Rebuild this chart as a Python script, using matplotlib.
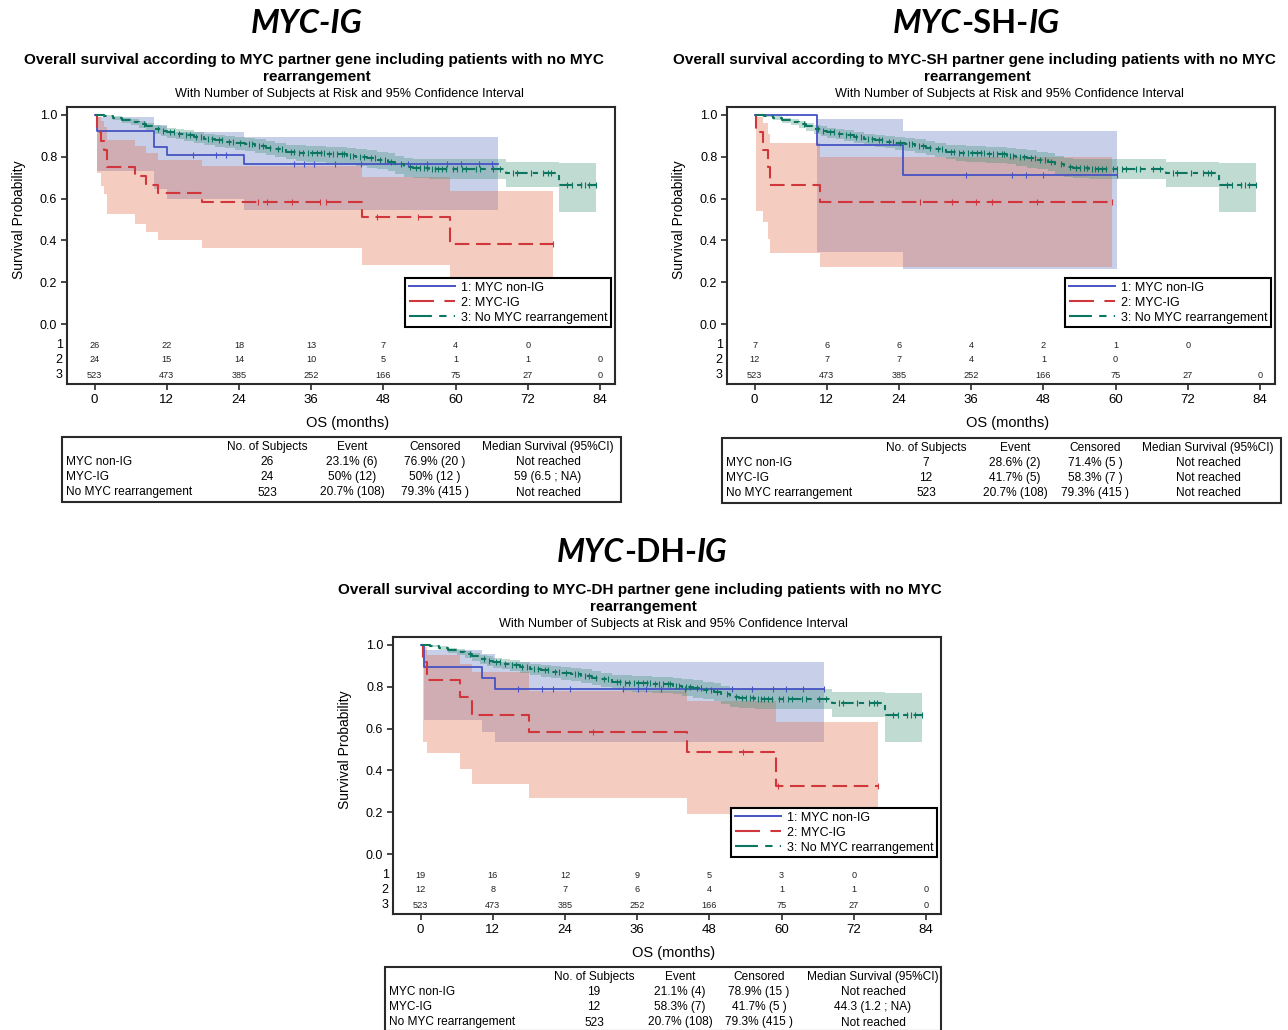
import numpy as np
import matplotlib
matplotlib.use("Agg")
import matplotlib.pyplot as plt
from matplotlib.lines import Line2D
from matplotlib.patches import Rectangle
from matplotlib.transforms import blended_transform_factory

plt.rcParams['font.family'] = ['Liberation Sans', 'DejaVu Sans']

# ---------------- data ----------------
month_ticks = [0, 12, 24, 36, 48, 60, 72, 84]
prob_ticks = [0.0, 0.2, 0.4, 0.6, 0.8, 1.0]
legend_labels = ["1: MYC non-IG", "2: MYC-IG", "3: No MYC rearrangement"]
table_header = ["No. of Subjects", "Event", "Censored", "Median Survival (95%CI)"]
group_names = ["MYC non-IG", "MYC-IG", "No MYC rearrangement"]

# group 3 (no MYC rearrangement) is the same in all panels
green_t = [1.5, 3, 4.6, 6, 7.3, 8.5, 9.9, 11, 12.1, 13.5, 14.8, 16.5, 18.2, 20, 21.6,
           23.3, 25, 26.7, 28.4, 30, 31.8, 33.5, 35.1, 38.5, 41.9, 43.5, 45.3, 47, 48.7,
           50, 51.4, 53, 55.5, 68.4, 77.2]
green_s = [.995, .986, .976, .967, .957, .945, .931, .924, .917, .910, .903, .894, .884,
           .878, .872, .867, .861, .853, .844, .835, .825, .820, .816, .812, .805, .800,
           .792, .785, .777, .765, .753, .746, .742, .720, .665]
green_lo = [.988, .975, .961, .950, .938, .924, .908, .900, .892, .884, .876, .866, .854,
            .847, .840, .834, .827, .818, .808, .798, .787, .781, .776, .771, .763, .757,
            .748, .740, .731, .717, .704, .698, .695, .655, .535]
green_hi = [1.0, .994, .987, .981, .973, .963, .951, .945, .939, .933, .927, .919, .911,
            .905, .900, .895, .890, .883, .875, .867, .858, .854, .850, .847, .841, .837,
            .830, .824, .817, .806, .796, .790, .787, .777, .770]
green_end = 83.3
green_cens = [8.2, 10.5, 11.3, 12.6, 13.2, 14.0, 15.1, 15.8, 16.9, 17.6, 18.8, 19.5, 20.6,
              21.2, 22.4, 23.0, 24.1, 25.6, 26.2, 27.3, 28.0, 29.1, 30.4, 31.2, 32.6, 33.1,
              34.0, 34.6, 35.5, 36.2, 36.9, 37.6, 38.2, 39.0, 39.6, 40.3, 41.1, 41.5, 42.4,
              43.0, 44.1, 44.8, 46.0, 46.6, 47.5, 48.2, 49.3, 51.0, 52.4, 53.5, 54.1, 54.8,
              55.2, 56.0, 56.6, 57.1, 57.8, 58.4, 59.5, 60.3, 61.0, 61.8, 63.4, 64.0, 66.2,
              67.3, 69.5, 70.2, 72.6, 74.6, 75.3, 75.9, 78.5, 79.3, 80.8, 81.5, 82.2, 83.3]
risk_green = [523, 473, 385, 252, 166, 75, 27, 0]

# Panel 1: MYC-IG
p1_blue_t = [0.4, 9.9, 12.1, 24.8]
p1_blue_s = [0.923, 0.846, 0.808, 0.767]
p1_blue_lo = [0.733, 0.645, 0.600, 0.545]
p1_blue_hi = [0.989, 0.950, 0.917, 0.893]
p1_blue_end = 67.0
p1_blue_cens = [16.4, 20.1, 21.9, 33.1, 34.8, 36.5, 39.9, 44.3, 52.1, 55.2, 58.5, 60.9, 63.9, 66.0]
p1_red_t = [0.4, 1.0, 1.5, 2.1, 6.65, 8.6, 10.6, 17.9, 44.4, 59.0]
p1_red_s = [0.917, 0.875, 0.833, 0.750, 0.708, 0.667, 0.625, 0.583, 0.510, 0.383]
p1_red_lo = [0.72, 0.66, 0.62, 0.526, 0.48, 0.44, 0.40, 0.362, 0.282, 0.134]
p1_red_hi = [0.99, 0.97, 0.94, 0.88, 0.85, 0.82, 0.785, 0.757, 0.705, 0.638]
p1_red_end = 76.2
p1_red_cens = [27.2, 28.6, 32.8, 37.5, 38.5, 47.0, 53.8, 76.2]
p1_risk1 = [26, 22, 18, 13, 7, 4, 0]
p1_risk2 = [24, 15, 14, 10, 5, 1, 1, 0]
p1_rows = [["26", "23.1% (6)", "76.9% (20 )", "Not reached"],
           ["24", "50% (12)", "50% (12 )", "59 (6.5 ; NA)"],
           ["523", "20.7% (108)", "79.3% (415 )", "Not reached"]]

# Panel 2: MYC-SH-IG
p2_blue_t = [10.3, 24.7]
p2_blue_s = [0.857, 0.714]
p2_blue_lo = [0.344, 0.263]
p2_blue_hi = [0.980, 0.922]
p2_blue_end = 60.3
p2_blue_cens = [35.1, 42.7, 45.1, 48.0, 60.3]
p2_red_t = [0.3, 1.4, 2.2, 2.5, 10.8]
p2_red_s = [0.917, 0.833, 0.750, 0.667, 0.583]
p2_red_lo = [0.542, 0.487, 0.407, 0.338, 0.273]
p2_red_hi = [0.99, 0.96, 0.91, 0.865, 0.80]
p2_red_end = 59.4
p2_red_cens = [27.5, 32.8, 36.8, 39.5, 47.0, 59.4]
p2_risk1 = [7, 6, 6, 4, 2, 1, 0]
p2_risk2 = [12, 7, 7, 4, 1, 0]
p2_rows = [["7", "28.6% (2)", "71.4% (5 )", "Not reached"],
           ["12", "41.7% (5)", "58.3% (7 )", "Not reached"],
           ["523", "20.7% (108)", "79.3% (415 )", "Not reached"]]

# Panel 3: MYC-DH-IG
p3_blue_t = [0.5, 10.2, 12.4]
p3_blue_s = [0.895, 0.842, 0.789]
p3_blue_lo = [0.641, 0.585, 0.534]
p3_blue_hi = [0.975, 0.955, 0.917]
p3_blue_end = 67.0
p3_blue_cens = [16.2, 20.1, 22.0, 24.9, 33.6, 36.2, 37.5, 40.0, 44.0, 51.7, 55.0, 58.6, 60.8, 63.6, 67.0]
p3_red_t = [0.4, 1.1, 6.5, 8.6, 18.0, 44.2, 59.0]
p3_red_s = [0.917, 0.833, 0.750, 0.667, 0.583, 0.486, 0.324]
p3_red_lo = [0.537, 0.482, 0.407, 0.335, 0.266, 0.19, 0.064]
p3_red_hi = [0.99, 0.95, 0.91, 0.87, 0.78, 0.73, 0.63]
p3_red_end = 76.1
p3_red_cens = [28.7, 53.6, 59.4, 76.1]
p3_risk1 = [19, 16, 12, 9, 5, 3, 0]
p3_risk2 = [12, 8, 7, 6, 4, 1, 1, 0]
p3_rows = [["19", "21.1% (4)", "78.9% (15 )", "Not reached"],
           ["12", "58.3% (7)", "41.7% (5 )", "44.3 (1.2 ; NA)"],
           ["523", "20.7% (108)", "79.3% (415 )", "Not reached"]]

# ---------------- style ----------------
W, H = 1288, 1030
BLUE, RED, GREEN = '#4653c4', '#d0363b', '#0d7660'
BLUE_F, RED_F, GREEN_F = '#5970bd', '#e26a42', '#3a8f74'
FRAME = '#2a2a2a'
RED_DASH = (7, 3.2)
GREEN_DASH = (6, 2.5, 2.5, 2.5)

fig = plt.figure(figsize=(W / 100, H / 100), dpi=100)
renderer = fig.canvas.get_renderer()


def fx(x):
    return x / W


def fy(y):
    return 1 - y / H


def km_band(ax, t, lo, hi, end, fcolor, alpha):
    xb = np.r_[t, end]
    ax.fill_between(xb, np.r_[lo, lo[-1]], np.r_[hi, hi[-1]], step='post',
                    color=fcolor, alpha=alpha, lw=0, zorder=1)


def km_line(ax, t, s, end, cens, color, dashes, lw=1.3):
    x = np.r_[0.0, t, end]
    y = np.r_[1.0, s, s[-1]]
    kw = dict(color=color, lw=lw, drawstyle='steps-post', zorder=3)
    if dashes is None:
        ax.plot(x, y, ls='-', **kw)
    else:
        ax.plot(x, y, dashes=dashes, **kw)
    t = np.asarray(t)
    s = np.asarray(s)
    idx = np.searchsorted(t, cens, side='right') - 1
    cy = np.where(idx < 0, 1.0, s[np.clip(idx, 0, None)])
    ax.plot(cens, cy, ls='none', marker='|', ms=5, mew=0.8, color=color, zorder=4)


def fit_text(s, cx, cy, target_w, size=10, **kw):
    t = fig.text(fx(cx), fy(cy), s, fontsize=size, ha='center', va='center', **kw)
    w = t.get_window_extent(renderer).width
    t.set_fontsize(size * target_w / w)
    return t


def rich_title(pieces, cx, base_y, target_w, size=26):
    arts = [fig.text(0, 0, s, fontsize=size, fontweight='bold', fontstyle=st,
                     family=['Lato', 'DejaVu Sans'], ha='left', va='baseline')
            for s, st in pieces]
    tot = sum(a.get_window_extent(renderer).width for a in arts)
    for a in arts:
        a.set_fontsize(size * target_w / tot)
    ws = [a.get_window_extent(renderer).width for a in arts]
    x = cx - sum(ws) / 2
    for a, w in zip(arts, ws):
        a.set_position((fx(x), fy(base_y)))
        x += w


def panel(box, blue, red, risk1, risk2):
    l, t, r, b = box
    ax = fig.add_axes([fx(l), fy(b), (r - l) / W, (b - t) / H])
    ax.set_xlim(-4.6, 86.5)
    ax.set_ylim(-0.287, 1.038)
    (bt, bs, blo, bhi, bend, bc) = blue
    (rt, rs, rlo, rhi, rend, rc) = red
    km_band(ax, bt, blo, bhi, bend, BLUE_F, 0.33)
    km_band(ax, rt, rlo, rhi, rend, RED_F, 0.33)
    km_band(ax, green_t, green_lo, green_hi, green_end, GREEN_F, 0.32)
    km_line(ax, bt, bs, bend, bc, BLUE, None)
    km_line(ax, rt, rs, rend, rc, RED, RED_DASH, lw=1.5)
    km_line(ax, green_t, green_s, green_end, green_cens, GREEN, GREEN_DASH, lw=1.5)

    ax.set_xticks(month_ticks)
    ax.set_xticklabels([str(m) for m in month_ticks], fontsize=9.5)
    ax.set_yticks(prob_ticks)
    ax.set_yticklabels(['%.1f' % p for p in prob_ticks], fontsize=9)
    ax.tick_params(direction='out', length=4.5, width=1.2, color=FRAME, pad=2.5)
    for sp in ax.spines.values():
        sp.set_linewidth(1.5)
        sp.set_color(FRAME)

    trb = blended_transform_factory(ax.transAxes, ax.transData)
    rows_y = [-0.1005, -0.172, -0.244]
    for lab, yy in zip(['1', '2', '3'], rows_y):
        ax.text(-0.008, yy, lab, transform=trb, ha='right', va='center', fontsize=9)
    for row, yy in zip([risk1, risk2, risk_green], rows_y):
        for m, n in zip(month_ticks, row):
            ax.text(m, yy, str(n), ha='center', va='center', fontsize=6.6, color='#222')

    tra = blended_transform_factory(ax.transData, ax.transAxes)
    ax.text(42, -0.141, 'OS (months)', transform=tra, ha='center', va='center', fontsize=10.5)
    ax.text(-0.088, 0.5, 'Survival Probability', transform=trb, rotation=90,
            ha='center', va='center', fontsize=10)

    handles = [Line2D([], [], color=BLUE, lw=1.4),
               Line2D([], [], color=RED, lw=1.5, dashes=(12, 5)),
               Line2D([], [], color=GREEN, lw=1.5, dashes=(11, 3.5, 3.5, 3.5, 3.5, 3.5))]
    leg = ax.legend(handles, legend_labels, loc='lower right', bbox_to_anchor=(85.8, -0.014),
                    bbox_transform=ax.transData, fontsize=9, frameon=True, fancybox=False,
                    edgecolor='black', framealpha=1, borderpad=0.25, labelspacing=0.25,
                    handlelength=3.7, handletextpad=0.5, borderaxespad=0)
    leg.get_frame().set_linewidth(1.5)
    leg.set_zorder(6)
    return ax


def table(box, label_x, cols, head_y, row_ys, rows):
    l, t, r, b = box
    fig.add_artist(Rectangle((fx(l), fy(b)), (r - l) / W, (b - t) / H, transform=fig.transFigure,
                             fill=False, lw=1.5, edgecolor=FRAME))
    for cx, h in zip(cols, table_header):
        fig.text(fx(cx), fy(head_y), h, ha='center', va='center', fontsize=8.6)
    for yy, name, vals in zip(row_ys, group_names, rows):
        fig.text(fx(label_x), fy(yy), name, ha='left', va='center', fontsize=8.6)
        for cx, v in zip(cols, vals):
            fig.text(fx(cx), fy(yy), v, ha='center', va='center', fontsize=8.6)


# ---------------- panels ----------------
panel((67, 107, 615, 384),
      (p1_blue_t, p1_blue_s, p1_blue_lo, p1_blue_hi, p1_blue_end, p1_blue_cens),
      (p1_red_t, p1_red_s, p1_red_lo, p1_red_hi, p1_red_end, p1_red_cens),
      p1_risk1, p1_risk2)
panel((727, 107, 1275, 384),
      (p2_blue_t, p2_blue_s, p2_blue_lo, p2_blue_hi, p2_blue_end, p2_blue_cens),
      (p2_red_t, p2_red_s, p2_red_lo, p2_red_hi, p2_red_end, p2_red_cens),
      p2_risk1, p2_risk2)
panel((393, 637, 941, 914),
      (p3_blue_t, p3_blue_s, p3_blue_lo, p3_blue_hi, p3_blue_end, p3_blue_cens),
      (p3_red_t, p3_red_s, p3_red_lo, p3_red_hi, p3_red_end, p3_red_cens),
      p3_risk1, p3_risk2)

# ---------------- titles ----------------
rich_title([("MYC-IG", 'italic')], 307, 33, 112)
rich_title([("MYC", 'italic'), ("-SH-", 'normal'), ("IG", 'italic')], 976, 33, 167)
rich_title([("MYC", 'italic'), ("-DH-", 'normal'), ("IG", 'italic')], 642, 562, 170)

for (cx, y0, name, w, scx) in [(314, 60, "MYC", 578, 349),
                               (974, 60, "MYC-SH", 600, 1009),
                               (640, 590, "MYC-DH", 600, 673)]:
    t = fit_text("Overall survival according to %s partner gene including patients with no MYC" % name,
                 cx, y0, w, fontweight='bold')
    fig.text(fx(cx + 3), fy(y0 + 17), "rearrangement", ha='center', va='center',
             fontsize=t.get_fontsize(), fontweight='bold')
    fit_text("With Number of Subjects at Risk and 95% Confidence Interval", scx, y0 + 34, 350)

# ---------------- tables ----------------
table((62, 437, 621, 502), 66, [267, 352, 435, 548], 447, [462, 477, 492.5], p1_rows)
table((722, 438, 1281, 503), 726, [926, 1015, 1095, 1208], 448, [463, 478, 493.5], p2_rows)
table((385, 967, 941, 1031), 389, [594, 680, 759, 873], 977, [992, 1007, 1022.5], p3_rows)

fig.savefig("out.png", dpi=100)
